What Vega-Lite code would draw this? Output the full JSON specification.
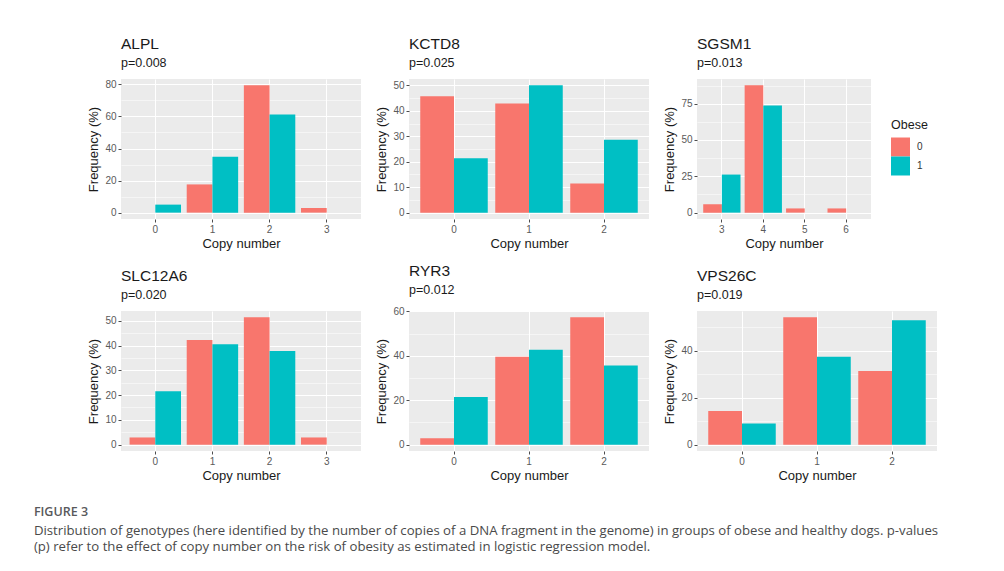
{
  "$schema": "https://vega.github.io/schema/vega-lite/v6.json",
  "background": "white",
  "padding": {"left": 33, "top": 37, "right": 10, "bottom": 5},
  "datasets": {
    "freq": [
      {"gene": "ALPL", "copy": 0, "obese": "0", "freq": 0},
      {"gene": "ALPL", "copy": 0, "obese": "1", "freq": 5},
      {"gene": "ALPL", "copy": 1, "obese": "0", "freq": 17.6},
      {"gene": "ALPL", "copy": 1, "obese": "1", "freq": 34.8},
      {"gene": "ALPL", "copy": 2, "obese": "0", "freq": 79.4},
      {"gene": "ALPL", "copy": 2, "obese": "1", "freq": 61.2},
      {"gene": "ALPL", "copy": 3, "obese": "0", "freq": 2.9},
      {"gene": "ALPL", "copy": 3, "obese": "1", "freq": 0},
      {"gene": "KCTD8", "copy": 0, "obese": "0", "freq": 45.7},
      {"gene": "KCTD8", "copy": 0, "obese": "1", "freq": 21.4},
      {"gene": "KCTD8", "copy": 1, "obese": "0", "freq": 42.9},
      {"gene": "KCTD8", "copy": 1, "obese": "1", "freq": 50},
      {"gene": "KCTD8", "copy": 2, "obese": "0", "freq": 11.4},
      {"gene": "KCTD8", "copy": 2, "obese": "1", "freq": 28.6},
      {"gene": "SGSM1", "copy": 3, "obese": "0", "freq": 5.8},
      {"gene": "SGSM1", "copy": 3, "obese": "1", "freq": 26.2},
      {"gene": "SGSM1", "copy": 4, "obese": "0", "freq": 87.6},
      {"gene": "SGSM1", "copy": 4, "obese": "1", "freq": 73.8},
      {"gene": "SGSM1", "copy": 5, "obese": "0", "freq": 2.9},
      {"gene": "SGSM1", "copy": 5, "obese": "1", "freq": 0},
      {"gene": "SGSM1", "copy": 6, "obese": "0", "freq": 2.9},
      {"gene": "SGSM1", "copy": 6, "obese": "1", "freq": 0},
      {"gene": "SLC12A6", "copy": 0, "obese": "0", "freq": 2.9},
      {"gene": "SLC12A6", "copy": 0, "obese": "1", "freq": 21.6},
      {"gene": "SLC12A6", "copy": 1, "obese": "0", "freq": 42.3},
      {"gene": "SLC12A6", "copy": 1, "obese": "1", "freq": 40.5},
      {"gene": "SLC12A6", "copy": 2, "obese": "0", "freq": 51.4},
      {"gene": "SLC12A6", "copy": 2, "obese": "1", "freq": 37.8},
      {"gene": "SLC12A6", "copy": 3, "obese": "0", "freq": 2.9},
      {"gene": "SLC12A6", "copy": 3, "obese": "1", "freq": 0},
      {"gene": "RYR3", "copy": 0, "obese": "0", "freq": 2.9},
      {"gene": "RYR3", "copy": 0, "obese": "1", "freq": 21.4},
      {"gene": "RYR3", "copy": 1, "obese": "0", "freq": 39.6},
      {"gene": "RYR3", "copy": 1, "obese": "1", "freq": 42.7},
      {"gene": "RYR3", "copy": 2, "obese": "0", "freq": 57.3},
      {"gene": "RYR3", "copy": 2, "obese": "1", "freq": 35.6},
      {"gene": "VPS26C", "copy": 0, "obese": "0", "freq": 14.3},
      {"gene": "VPS26C", "copy": 0, "obese": "1", "freq": 9.0},
      {"gene": "VPS26C", "copy": 1, "obese": "0", "freq": 54.3},
      {"gene": "VPS26C", "copy": 1, "obese": "1", "freq": 37.5},
      {"gene": "VPS26C", "copy": 2, "obese": "0", "freq": 31.4},
      {"gene": "VPS26C", "copy": 2, "obese": "1", "freq": 53.1}
    ]
  },
  "title": {
    "text": "FIGURE 3",
    "subtitle": [
      "Distribution of genotypes (here identified by the number of copies of a DNA fragment in the genome) in groups of obese and healthy dogs. p-values",
      "(p) refer to the effect of copy number on the risk of obesity as estimated in logistic regression model."
    ],
    "orient": "bottom",
    "anchor": "start",
    "frame": "bounds",
    "dx": -54,
    "offset": 24,
    "font": "Open Sans",
    "fontSize": 12.5,
    "fontWeight": 600,
    "color": "#58595b",
    "subtitleFont": "Open Sans",
    "subtitleFontSize": 13.2,
    "subtitleColor": "#4a4a4a",
    "subtitlePadding": 6,
    "subtitleLineHeight": 16.5
  },
  "resolve": {"legend": {"color": "independent"}, "scale": {"xOffset": "independent"}},
  "spacing": 14,
  "vconcat": [
    {
      "spacing": 14,
      "resolve": {"legend": {"color": "independent"}, "scale": {"xOffset": "independent"}},
      "hconcat": [
        {
          "width": 240, "height": 140,
          "title": {"text": "ALPL", "subtitle": "p=0.008"},
          "data": {"name": "freq"},
          "transform": [{"filter": "datum.gene === 'ALPL'"}],
          "mark": "bar",
          "encoding": {
            "x": {"field": "copy", "type": "ordinal", "title": "Copy number", "scale": {"paddingInner": 0.1, "paddingOuter": 0.15}},
            "xOffset": {"field": "obese", "type": "nominal", "scale": {"paddingInner": 0, "paddingOuter": 0}},
            "y": {"field": "freq", "type": "quantitative", "title": "Frequency (%)", "scale": {"domain": [-3.97, 83.37], "nice": false},
              "axis": {"values": [0, 10, 20, 30, 40, 50, 60, 70, 80],
                "labelExpr": "datum.value % 20 === 0 ? format(datum.value, 'd') : ''",
                "gridWidth": {"condition": {"test": "datum.value % 20 === 0", "value": 1.1}, "value": 0.5},
                "tickSize": {"condition": {"test": "datum.value % 20 === 0", "value": 3}, "value": 0}}},
            "color": {"field": "obese", "type": "nominal", "scale": {"domain": ["0", "1"], "range": ["#F8766D", "#00BFC4"]}, "legend": null}
          }
        },
        {
          "width": 240, "height": 140,
          "title": {"text": "KCTD8", "subtitle": "p=0.025"},
          "data": {"name": "freq"},
          "transform": [{"filter": "datum.gene === 'KCTD8'"}],
          "mark": "bar",
          "encoding": {
            "x": {"field": "copy", "type": "ordinal", "title": "Copy number", "scale": {"paddingInner": 0.1, "paddingOuter": 0.15}},
            "xOffset": {"field": "obese", "type": "nominal", "scale": {"paddingInner": 0, "paddingOuter": 0}},
            "y": {"field": "freq", "type": "quantitative", "title": "Frequency (%)", "scale": {"domain": [-2.5, 52.5], "nice": false},
              "axis": {"values": [0, 5, 10, 15, 20, 25, 30, 35, 40, 45, 50],
                "labelExpr": "datum.value % 10 === 0 ? format(datum.value, 'd') : ''",
                "gridWidth": {"condition": {"test": "datum.value % 10 === 0", "value": 1.1}, "value": 0.5},
                "tickSize": {"condition": {"test": "datum.value % 10 === 0", "value": 3}, "value": 0}}},
            "color": {"field": "obese", "type": "nominal", "scale": {"domain": ["0", "1"], "range": ["#F8766D", "#00BFC4"]}, "legend": null}
          }
        },
        {
          "width": 174, "height": 140,
          "title": {"text": "SGSM1", "subtitle": "p=0.013"},
          "data": {"name": "freq"},
          "transform": [{"filter": "datum.gene === 'SGSM1'"}],
          "mark": "bar",
          "encoding": {
            "x": {"field": "copy", "type": "ordinal", "title": "Copy number", "scale": {"paddingInner": 0.1, "paddingOuter": 0.15}},
            "xOffset": {"field": "obese", "type": "nominal", "scale": {"paddingInner": 0, "paddingOuter": 0}},
            "y": {"field": "freq", "type": "quantitative", "title": "Frequency (%)", "scale": {"domain": [-4.38, 91.98], "nice": false},
              "axis": {"values": [0, 12.5, 25, 37.5, 50, 62.5, 75, 87.5],
                "labelExpr": "datum.value % 25 === 0 ? format(datum.value, 'd') : ''",
                "gridWidth": {"condition": {"test": "datum.value % 25 === 0", "value": 1.1}, "value": 0.5},
                "tickSize": {"condition": {"test": "datum.value % 25 === 0", "value": 3}, "value": 0}}},
            "color": {"field": "obese", "type": "nominal", "scale": {"domain": ["0", "1"], "range": ["#F8766D", "#00BFC4"]},
              "legend": {"title": "Obese", "orient": "none", "legendX": 194, "legendY": 40, "symbolType": "square", "symbolSize": 361,
                "symbolStrokeWidth": 0, "symbolOpacity": 1, "rowPadding": 0, "labelFontSize": 10, "labelColor": "#333333",
                "titleFontSize": 12.5, "titleFontWeight": "normal", "titleColor": "#1a1a1a", "titlePadding": 6, "labelOffset": 7,
                "titleFont": "Liberation Sans", "labelFont": "Liberation Sans", "padding": 0}}
          }
        }
      ]
    },
    {
      "spacing": 14,
      "resolve": {"legend": {"color": "independent"}, "scale": {"xOffset": "independent"}},
      "hconcat": [
        {
          "width": 240, "height": 140,
          "title": {"text": "SLC12A6", "subtitle": "p=0.020"},
          "data": {"name": "freq"},
          "transform": [{"filter": "datum.gene === 'SLC12A6'"}],
          "mark": "bar",
          "encoding": {
            "x": {"field": "copy", "type": "ordinal", "title": "Copy number", "scale": {"paddingInner": 0.1, "paddingOuter": 0.15}},
            "xOffset": {"field": "obese", "type": "nominal", "scale": {"paddingInner": 0, "paddingOuter": 0}},
            "y": {"field": "freq", "type": "quantitative", "title": "Frequency (%)", "scale": {"domain": [-2.57, 53.97], "nice": false},
              "axis": {"values": [0, 5, 10, 15, 20, 25, 30, 35, 40, 45, 50],
                "labelExpr": "datum.value % 10 === 0 ? format(datum.value, 'd') : ''",
                "gridWidth": {"condition": {"test": "datum.value % 10 === 0", "value": 1.1}, "value": 0.5},
                "tickSize": {"condition": {"test": "datum.value % 10 === 0", "value": 3}, "value": 0}}},
            "color": {"field": "obese", "type": "nominal", "scale": {"domain": ["0", "1"], "range": ["#F8766D", "#00BFC4"]}, "legend": null}
          }
        },
        {
          "width": 240, "height": 140,
          "title": {"text": "RYR3", "subtitle": "p=0.012"},
          "data": {"name": "freq"},
          "transform": [{"filter": "datum.gene === 'RYR3'"}],
          "mark": "bar",
          "encoding": {
            "x": {"field": "copy", "type": "ordinal", "title": "Copy number", "scale": {"paddingInner": 0.1, "paddingOuter": 0.15}},
            "xOffset": {"field": "obese", "type": "nominal", "scale": {"paddingInner": 0, "paddingOuter": 0}},
            "y": {"field": "freq", "type": "quantitative", "title": "Frequency (%)", "scale": {"domain": [-2.865, 60.165], "nice": false},
              "axis": {"values": [0, 10, 20, 30, 40, 50, 60],
                "labelExpr": "datum.value % 20 === 0 ? format(datum.value, 'd') : ''",
                "gridWidth": {"condition": {"test": "datum.value % 20 === 0", "value": 1.1}, "value": 0.5},
                "tickSize": {"condition": {"test": "datum.value % 20 === 0", "value": 3}, "value": 0}}},
            "color": {"field": "obese", "type": "nominal", "scale": {"domain": ["0", "1"], "range": ["#F8766D", "#00BFC4"]}, "legend": null}
          }
        },
        {
          "width": 240, "height": 140,
          "title": {"text": "VPS26C", "subtitle": "p=0.019"},
          "data": {"name": "freq"},
          "transform": [{"filter": "datum.gene === 'VPS26C'"}],
          "mark": "bar",
          "encoding": {
            "x": {"field": "copy", "type": "ordinal", "title": "Copy number", "scale": {"paddingInner": 0.1, "paddingOuter": 0.15}},
            "xOffset": {"field": "obese", "type": "nominal", "scale": {"paddingInner": 0, "paddingOuter": 0}},
            "y": {"field": "freq", "type": "quantitative", "title": "Frequency (%)", "scale": {"domain": [-2.715, 57.015], "nice": false},
              "axis": {"values": [0, 10, 20, 30, 40, 50],
                "labelExpr": "datum.value % 20 === 0 ? format(datum.value, 'd') : ''",
                "gridWidth": {"condition": {"test": "datum.value % 20 === 0", "value": 1.1}, "value": 0.5},
                "tickSize": {"condition": {"test": "datum.value % 20 === 0", "value": 3}, "value": 0}}},
            "color": {"field": "obese", "type": "nominal", "scale": {"domain": ["0", "1"], "range": ["#F8766D", "#00BFC4"]}, "legend": null}
          }
        }
      ]
    }
  ],
  "config": {
    "font": "Liberation Sans",
    "view": {"fill": "#EBEBEB", "stroke": null},
    "bar": {"stroke": null},
    "axis": {
      "domain": false,
      "grid": true,
      "gridColor": "#FFFFFF",
      "gridWidth": 1.1,
      "tickColor": "#4D4D4D",
      "tickSize": 3,
      "labelColor": "#5a5a5a",
      "labelFont": "Liberation Sans",
      "labelFontSize": 10,
      "labelPadding": 2,
      "labelFlush": false,
      "labelBound": false,
      "labelOverlap": false,
      "titleFont": "Liberation Sans",
      "titleFontSize": 13,
      "titleFontWeight": "normal",
      "titleColor": "#1a1a1a",
      "titlePadding": 4
    },
    "axisX": {"labelAngle": 0, "bandPosition": 0.5, "titlePadding": 3},
    "title": {
      "font": "Liberation Sans",
      "fontSize": 15.5,
      "fontWeight": "normal",
      "color": "#1a1a1a",
      "anchor": "start",
      "frame": "group",
      "subtitleFont": "Liberation Sans",
      "subtitleFontSize": 12.5,
      "subtitleColor": "#1a1a1a",
      "subtitlePadding": 4,
      "offset": 10
    }
  }
}
